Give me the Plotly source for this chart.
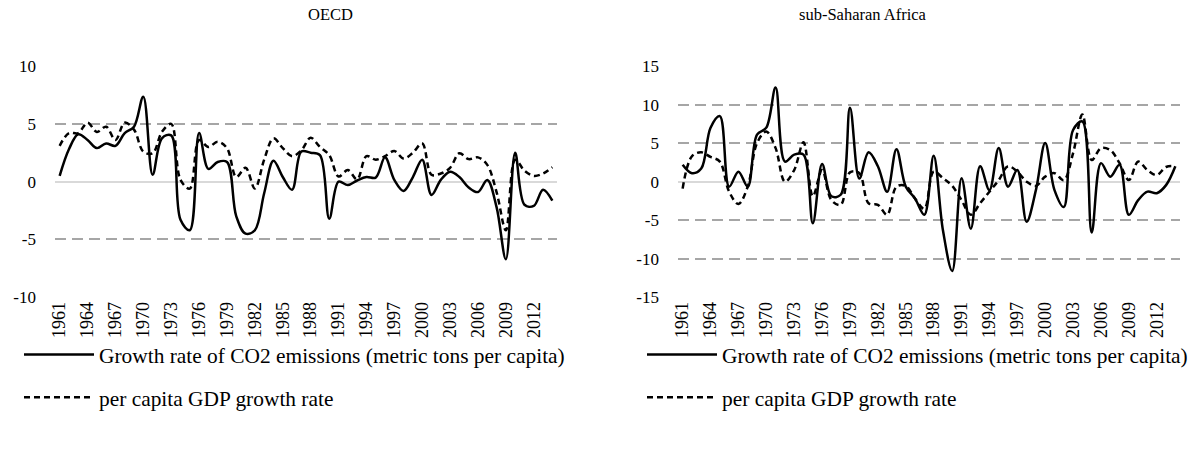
import plotly.graph_objects as go

years = list(range(1961, 2015))

oecd_co2 = [0.5, 2.8, 4.1, 3.6, 2.9, 3.3, 3.1, 4.2, 4.75, 7.35,
            0.6, 3.75, 4.0, -3.3, -4.2, 4.2, 1.1, 1.7, 1.7, -3.0,
            -4.5, -4.2, -1.0, 1.8, 0.4, -0.7, 2.6, 2.5, 2.3, -3.2,
            0.0, -0.3, 0.1, 0.4, 0.35, 2.1, 0.15, -0.8, 0.4, 1.9,
            -1.15, 0.15, 0.85, 0.4, -0.5, -0.9, 0.15, -2.2, -6.7, 2.5,
            -2.0, -2.1, -0.7, -1.65]
oecd_gdp = [3.1, 4.2, 4.2, 5.1, 4.3, 4.75, 3.6, 5.1, 4.5, 2.6,
            2.45, 4.3, 5.0, 0.15, -0.6, 3.6, 3.0, 3.45, 2.9, 0.4,
            1.2, -0.6, 1.9, 3.75, 2.9, 2.2, 2.7, 3.8, 3.0, 2.3,
            0.45, 1.0, 0.2, 2.2, 1.9, 2.2, 2.65, 2.0, 2.5, 3.3,
            0.6, 0.7, 1.2, 2.45, 1.95, 2.1, 1.45, -0.9, -4.2, 1.9,
            0.95, 0.5, 0.7, 1.25]

ssa_co2 = [2.2, 1.1, 1.7, 7.0, 8.5, -0.65, 1.3, -0.65, 6.1, 7.0,
           12.2, 2.6, 3.5, 3.5, -5.4, 2.3, -1.9, -1.7, 9.6, 0.4,
           3.8, 2.0, -1.3, 4.2, -0.65, -2.2, -4.3, 3.35, -6.3, -11.6,
           0.45, -6.1, 2.0, -1.1, 4.35, -0.65, 1.5, -5.2, -1.1, 5.0,
           -1.1, -3.3, 6.7, 7.8, -6.6, 2.4, 0.65, 2.2, -4.3, -2.4,
           -1.3, -1.5, -0.45, 2.0]
ssa_gdp = [-0.9, 3.3, 3.8, 3.2, 2.6, -1.3, -2.9, -0.65, 5.0, 6.5,
           4.35, 0.0, 1.5, 5.1, -1.9, 1.5, -2.4, -3.0, 1.2, 1.1,
           -2.8, -3.0, -4.3, -0.65, -0.55, -2.2, -3.5, 1.3, 0.45, -0.55,
           -2.4, -4.3, -2.8, -1.3, 0.2, 2.0, 1.3, 0.0, -0.55, 0.65,
           1.1, 0.2, 3.7, 8.7, 2.8, 4.35, 4.1, 2.4, 0.2, 2.6,
           1.5, 0.85, 1.9, 2.0]

tick_years = list(range(1961, 2013, 3))
oecd_yticks = [-10, -5, 0, 5, 10]
ssa_yticks = [-15, -10, -5, 0, 5, 10, 15]

name_co2 = "Growth rate of CO2 emissions (metric tons per capita)"
name_gdp = "per capita GDP growth rate"
titles = ["OECD", "sub-Saharan Africa"]

FONT = "Liberation Serif"

fig = go.Figure()

panels = [
    (oecd_co2, oecd_gdp, "x", "y", "legend"),
    (ssa_co2, ssa_gdp, "x2", "y2", "legend2"),
]
for co2, gdp, xa, ya, lg in panels:
    fig.add_trace(go.Scatter(
        x=years, y=co2, mode="lines", name=name_co2,
        line=dict(color="black", width=2.5, shape="spline", smoothing=1.0),
        xaxis=xa, yaxis=ya, legend=lg, legendgroup=lg + "a"))
    fig.add_trace(go.Scatter(
        x=years, y=gdp, mode="lines", name=name_gdp,
        line=dict(color="black", width=2.5, dash="6px,4px", shape="spline", smoothing=1.0),
        xaxis=xa, yaxis=ya, legend=lg, legendgroup=lg + "b"))

W, H = 1191, 461
dom_y = [(H - 297.3) / H, (H - 66) / H]

xcommon = dict(
    range=[1960.5, 2014.5], tickmode="array", tickvals=tick_years,
    ticktext=[str(v) for v in tick_years], tickangle=-90,
    showgrid=False, zeroline=False, showline=False, ticks="",
    tickfont=dict(family=FONT, size=18, color="black"), fixedrange=True,
)
ycommon = dict(
    showgrid=True, gridcolor="#A6A6A6", gridwidth=2, griddash="11px,6px",
    zeroline=True, zerolinecolor="#D9D9D9", zerolinewidth=2,
    showline=False, ticks="", ticklabelstandoff=18, tickmode="array",
    tickfont=dict(family=FONT, size=17, color="black"), fixedrange=True,
)

legcommon = dict(
    font=dict(family=FONT, size=21.4, color="black"),
    bgcolor="rgba(0,0,0,0)", itemwidth=70, tracegroupgap=12,
    xanchor="left", yanchor="top", traceorder="grouped",
)

fig.update_layout(
    width=W, height=H,
    margin=dict(l=0, r=0, t=0, b=0, autoexpand=False),
    paper_bgcolor="white", plot_bgcolor="white",
    showlegend=True,
    xaxis=dict(domain=[55 / W, 557 / W], anchor="y", **xcommon),
    xaxis2=dict(domain=[678 / W, 1180 / W], anchor="y2", **xcommon),
    yaxis=dict(domain=dom_y, anchor="x", range=[-10, 10], tickvals=oecd_yticks,
               ticktext=[str(v) for v in oecd_yticks], **ycommon),
    yaxis2=dict(domain=dom_y, anchor="x2", range=[-15, 15], tickvals=ssa_yticks,
                ticktext=[str(v) for v in ssa_yticks], **ycommon),
    legend=dict(x=19 / W, y=1 - 334 / H, **legcommon),
    legend2=dict(x=642 / W, y=1 - 334 / H, **legcommon),
    annotations=[
        dict(text=titles[0], x=(55 + 557) / 2 / W, y=1 - 14 / H, xref="paper", yref="paper",
             showarrow=False, font=dict(family=FONT, size=16.5, color="black"), yanchor="middle"),
        dict(text=titles[1], x=(678 + 1180) / 2 / W, y=1 - 14 / H, xref="paper", yref="paper",
             showarrow=False, font=dict(family=FONT, size=16.5, color="black"), yanchor="middle"),
    ],
)

fig.write_html(
    "out.html",
    config={"displayModeBar": False},
    post_script="document.body.style.margin='0';document.body.style.overflow='hidden';",
)
